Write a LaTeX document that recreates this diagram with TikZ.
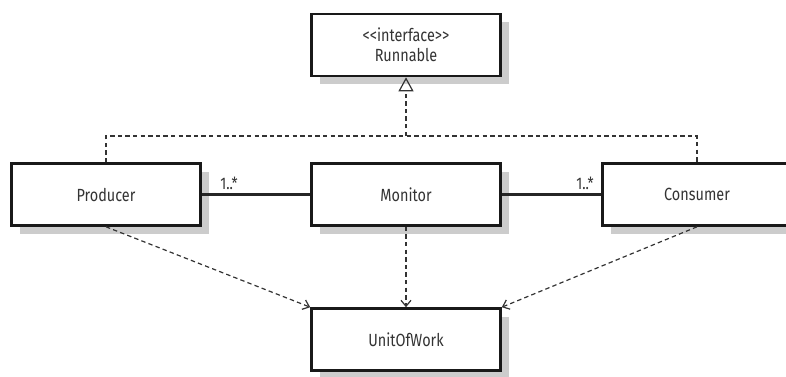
\documentclass[tikz,border=0pt]{standalone}
\usepackage{fontspec}
\setmainfont{Fira Sans}[FakeStretch=0.82]
\usetikzlibrary{arrows.meta,shadows}
\tikzset{%
  classbox/.style = {shape=rectangle, draw=black!90, line width=1.3pt,%
                     fill=white, align=center,%
                     minimum width=94.5pt, minimum height=31pt,%
                     font=\fontsize{8.8}{10}\selectfont, text=black!80,%
                     drop shadow={shadow xshift=4pt, shadow yshift=-4pt,%
                                  fill=black!20, opacity=1}},%
  dashline/.style = {line width=0.6pt, draw=black!80,%
                     dash pattern=on 2.2pt off 1.6pt},%
  realize/.style  = {dashline, -{Triangle[open,width=7.5pt,length=7pt]}},%
  depend/.style   = {dashline, -{Straight Barb[length=3pt,width=5pt]}},%
  assoc/.style    = {line width=1.1pt, draw=black!85},%
  mult/.style     = {font=\fontsize{8.4}{10}\selectfont, text=black!80,%
                     inner sep=1pt}%
}
\begin{document}
\begin{tikzpicture}[x=0.5pt,y=-0.5pt]
		\useasboundingbox (0,0) rectangle (786,376);
		\clip (0,0) rectangle (786,376);
		\node [classbox] (runnable) at (406,45) {<{}<interface>{}>\\Runnable};
		\node [classbox] (producer) at (106,194.5) {Producer};
		\node [classbox] (monitor) at (406,194.5) {Monitor};
		\node [classbox] (consumer) at (697,194.5) {Consumer};
		\node [classbox] (unit) at (406,339.5) {UnitOfWork};
		\coordinate (fork) at (406,136);
		\draw [dashline] (producer.north) -- (producer.north |- fork)
			-- (consumer.north |- fork) -- (consumer.north);
		\draw [realize] (fork) -- (runnable.south);
		\draw [assoc] (producer.east) -- (monitor.west);
		\draw [assoc] (monitor.east) -- (consumer.west);
		\node [mult] (pmult) at (229,183) {1..*};
		\node [mult] (cmult) at (585,183) {1..*};
		\draw [depend] (producer.south) -- (unit.north west);
		\draw [depend] (monitor.south) -- (unit.north);
		\draw [depend] (consumer.south) -- (unit.north east);
\end{tikzpicture}
\end{document}
